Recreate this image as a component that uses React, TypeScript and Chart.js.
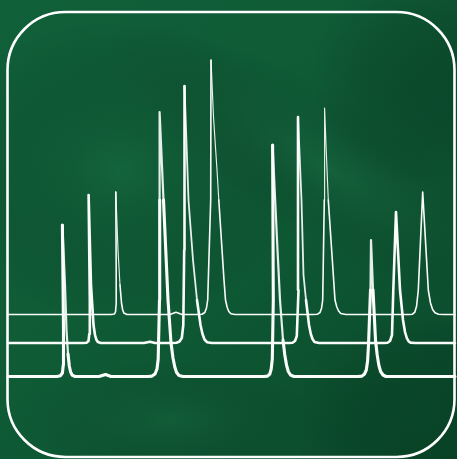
import React, { useEffect, useRef } from "react";
import { Chart, registerables } from "chart.js";

Chart.register(...registerables);

// Chromatogram traces: scan index vs detector signal (counts)
const scanTop = [8, 111, 114.5, 115.6, 116, 116.2, 115.8, 118, 120, 121.5, 122.6, 123.8, 127, 170, 176, 182, 198, 202, 204.8, 206.5, 207.7, 210.7, 211, 213.5, 217, 218.8, 224, 225.5, 227.2, 228.8, 231, 235, 313, 317.5, 320, 321.6, 322.7, 324.3, 324.6, 326.2, 328.3, 335, 336.8, 338.6, 340.8, 346, 409, 412.5, 414.8, 416.6, 418.3, 422.7, 428.3, 430.5, 432.6, 435, 438.5, 444, 455];
const signalTop = [144.5, 144.5, 145, 147.5, 154, 189, 267, 209, 174, 156, 149.5, 146, 144.5, 144.5, 146.7, 144.5, 144.5, 144.8, 146.5, 151, 159, 259, 399, 342, 289, 259, 179, 159, 151.5, 147.5, 145.3, 144.5, 144.5, 144.8, 146.5, 151, 159, 259, 351, 309, 259, 159, 152, 148, 145.5, 144.5, 144.5, 144.8, 146.8, 153, 169, 267, 169, 156, 149.5, 146.2, 144.8, 144.5, 144.5];

const scanMid = [8, 83, 86.5, 88.5, 89.3, 89.8, 88.6, 91, 93.5, 95, 96.3, 97.8, 101, 144, 150, 155, 172, 176.5, 179.5, 181.8, 183.3, 184.2, 184.5, 188.5, 193, 197, 200.5, 202.5, 204.5, 207, 212, 289, 292.5, 295, 296.8, 298.5, 298, 301.5, 303.5, 306, 309, 310.8, 312.5, 314.5, 319, 384, 387.5, 390, 392, 393.3, 396, 400, 403, 405, 406.8, 408.5, 410.5, 415, 455];
const signalMid = [116, 116, 116.3, 118, 125, 159, 264, 174, 134, 124, 119.5, 117, 116, 116, 117.3, 116, 116, 116.3, 117.5, 121, 134, 209, 373, 259, 199, 159, 134, 125, 119.5, 116.8, 116, 116, 116.3, 118, 123, 169, 342, 259, 184, 159, 134, 125, 120, 117, 116, 116, 116.3, 118, 124, 169, 247, 169, 139, 127, 121, 117.8, 116.4, 116, 116];

const scanBottom = [8, 57, 60.3, 62.4, 63.3, 63.5, 62.4, 65, 66.5, 68, 69.3, 70.6, 72.2, 75, 99, 105.5, 111, 148, 152, 155, 157, 158.2, 159.5, 159.7, 159.6, 163.5, 168, 171, 173, 174.8, 176.6, 179, 183, 264, 267.5, 269.8, 271.2, 272.3, 273.3, 272.6, 277.5, 280, 283, 284.8, 286.5, 288.3, 290.5, 294, 358, 362, 364.5, 366.3, 367.6, 368.5, 370.5, 371, 373, 375.5, 377.2, 378.8, 380.6, 383, 386, 455];
const signalBottom = [82.5, 82.5, 83.2, 86, 94, 129, 234, 174, 129, 105, 93, 87, 83.8, 82.5, 82.5, 84.5, 82.5, 82.5, 82.9, 85, 90, 100, 159, 259, 347, 259, 159, 116, 101, 92, 86.5, 83.5, 82.5, 82.5, 82.9, 85, 90, 100, 159, 314, 209, 159, 119, 104, 94, 87.5, 84, 82.5, 82.5, 82.9, 85, 89, 98, 114, 169, 219, 169, 119, 104, 94, 87.5, 84, 82.5, 82.5];

const W = 457;
const H = 459;

function toPoints(xs: number[], ys: number[]) {
  return xs.map((x, i) => ({ x, y: ys[i] }));
}

function upperSegment(ctx: any, base: number) {
  const a = ctx.p0.parsed.y - base;
  const b = ctx.p1.parsed.y - base;
  const hi = Math.max(a, b);
  const lo = Math.min(a, b);
  return hi > 40 && lo / hi > 0.45;
}

const backgroundPlugin = {
  id: "bgPanel",
  beforeDraw(chart: any) {
    const ctx = chart.ctx as CanvasRenderingContext2D;
    ctx.save();
    const g = ctx.createLinearGradient(0, 0, W, H);
    g.addColorStop(0, "#10603a");
    g.addColorStop(0.45, "#0f5b36");
    g.addColorStop(1, "#0a4a2b");
    ctx.fillStyle = g;
    ctx.fillRect(0, 0, W, H);

    const blob = (cx: number, cy: number, rx: number, ry: number, rot: number, color: string) => {
      ctx.save();
      ctx.translate(cx, cy);
      ctx.rotate(rot);
      ctx.scale(1, ry / rx);
      const rg = ctx.createRadialGradient(0, 0, 0, 0, 0, rx);
      rg.addColorStop(0, color);
      rg.addColorStop(1, "rgba(0,0,0,0)");
      ctx.fillStyle = rg;
      ctx.beginPath();
      ctx.arc(0, 0, rx, 0, Math.PI * 2);
      ctx.fill();
      ctx.restore();
    };
    blob(120, 170, 190, 150, 0, "rgba(28,118,72,0.3)");
    blob(330, 170, 260, 70, 0.55, "rgba(45,135,90,0.2)");
    blob(170, 420, 150, 60, 0, "rgba(40,130,85,0.18)");
    blob(440, 80, 130, 110, 0, "rgba(4,52,28,0.35)");
    blob(430, 420, 140, 110, 0, "rgba(4,52,28,0.3)");

    // rounded panel frame
    const x = 7.5, y = 12, w = 447, h = 445, r = 58;
    ctx.beginPath();
    ctx.moveTo(x + r, y);
    ctx.lineTo(x + w - r, y);
    ctx.arcTo(x + w, y, x + w, y + r, r);
    ctx.lineTo(x + w, y + h - r);
    ctx.arcTo(x + w, y + h, x + w - r, y + h, r);
    ctx.lineTo(x + r, y + h);
    ctx.arcTo(x, y + h, x, y + h - r, r);
    ctx.lineTo(x, y + r);
    ctx.arcTo(x, y, x + r, y, r);
    ctx.closePath();
    ctx.strokeStyle = "#ffffff";
    ctx.lineWidth = 2.6;
    ctx.stroke();
    ctx.restore();
  },
};

export default function App() {
  const ref = useRef<HTMLCanvasElement | null>(null);

  useEffect(() => {
    if (!ref.current) return;
    const baseTop = Math.min(...signalTop);
    const baseMid = Math.min(...signalMid);
    const baseBottom = Math.min(...signalBottom);

    const mk = (label: string, xs: number[], ys: number[], base: number, w: number, thinW: number) => ({
      label,
      data: toPoints(xs, ys),
      borderColor: "#fbfdfb",
      borderWidth: w,
      pointRadius: 0,
      fill: false,
      tension: 0,
      borderJoinStyle: "round" as const,
      borderCapStyle: "round" as const,
      segment: {
        borderWidth: (ctx: any) => (upperSegment(ctx, base) ? thinW : undefined),
        borderColor: (ctx: any) => (upperSegment(ctx, base) ? "rgba(255,255,255,0.9)" : undefined),
      },
    });

    const chart = new Chart(ref.current, {
      type: "line",
      data: {
        datasets: [
          mk("Run 3", scanTop, signalTop, baseTop, 1.6, 1.15),
          mk("Run 2", scanMid, signalMid, baseMid, 2.6, 1.8),
          mk("Run 1", scanBottom, signalBottom, baseBottom, 3.1, 2.2),
        ],
      },
      options: {
        responsive: false,
        animation: false,
        clip: false as any,
        layout: { padding: 0 },
        scales: {
          x: { type: "linear", min: 0, max: W, display: false },
          y: { type: "linear", min: 0, max: H, display: false },
        },
        plugins: {
          legend: { display: false },
          tooltip: { enabled: false },
        },
        events: [],
      },
      plugins: [backgroundPlugin],
    });
    return () => chart.destroy();
  }, []);

  return (
    <div style={{ position: "absolute", left: 0, top: 0, width: W, height: H }}>
      <canvas ref={ref} width={W} height={H} style={{ display: "block", width: W, height: H }} />
    </div>
  );
}
